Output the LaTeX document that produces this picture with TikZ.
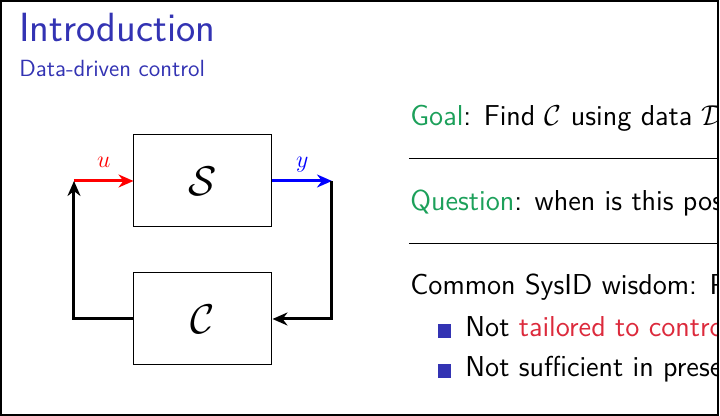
\documentclass[tikz,border=0pt]{standalone}
\usepackage{tikz}
\usetikzlibrary{arrows.meta,positioning,calc}
\definecolor{struct}{HTML}{3333B3}
\definecolor{goalgreen}{HTML}{1CA05A}
\definecolor{alertred}{HTML}{DC2A3C}
\definecolor{sigblue}{HTML}{0000FF}
\definecolor{sigred}{HTML}{FF0000}

\begin{document}
\begin{tikzpicture}[x=0.5pt, y=-0.5pt,
  blockbox/.style={draw, line width=0.5pt, minimum width=69pt, minimum height=46pt,
                   inner sep=0pt, font=\fontsize{20}{24}\selectfont},
  sig/.style={line width=1.5pt, -{Stealth[length=7.5pt, width=6.5pt]}},
  siglabel/.style={above=6pt, inner sep=0pt, text depth=0pt, font=\fontsize{12}{14}\selectfont},
  bodytext/.style={anchor=base west, inner sep=0pt, font=\fontsize{14.4}{17}\selectfont\sffamily},
  bulletsq/.style={fill=struct, minimum size=6.6pt, inner sep=0pt}]
  \useasboundingbox (0,0) rectangle (720,416);
  \begin{scope}
    \clip (2,2) rectangle (717,414);
    % frame title
    \node[anchor=base west, inner sep=0pt, text=struct, font=\fontsize{20.4}{24}\selectfont\sffamily]
         (title) at (19,42) {Introduction};
    \node[anchor=base west, inner sep=0pt, text=struct, font=\fontsize{11.7}{14}\selectfont\sffamily]
         (subtitle) at (19,77) {Data-driven control};
    % closed loop
    \node[blockbox] (plant) at (203,181) {$\mathcal{S}$};
    \node[blockbox] (ctrl) at (203,319) {$\mathcal{C}$};
    \coordinate (uin) at (74,181);
    \coordinate (yout) at (332,181);
    \draw[sig, sigred] (uin) -- node[siglabel, text=sigred] (ulab) {$u$} (plant.west);
    \draw[sig, sigblue] (plant.east) -- node[siglabel, text=sigblue] (ylab) {$y$} (yout);
    \draw[sig] (yout) |- (ctrl.east);
    \draw[sig] (ctrl.west) -| (uin);
    % right column
    \node[bodytext] (goal) at (410,126)
         {\textcolor{goalgreen}{Goal}: Find $\mathcal{C}$ using data $\mathcal{D}$};
    \draw[line width=0.5pt] (409,159) -- (720,159);
    \node[bodytext] (question) at (410,211)
         {\textcolor{goalgreen}{Question}: when is this poss};
    \draw[line width=0.5pt] (409,244) -- (720,244);
    \node[bodytext] (wisdom) at (410,295) {Common SysID wisdom: P};
    \foreach \i/\yb/\txt in {1/337/{Not \textcolor{alertred}{tailored to contro}},
                             2/377/{Not sufficient in prese}}{
      \node[bulletsq] (sq\i) at (444.5,\yb-6) {};
      \node[bodytext] (item\i) at (465,\yb) {\txt};}
  \end{scope}
  \draw[line width=1pt] (1,1) rectangle (718,415);
\end{tikzpicture}
\end{document}
